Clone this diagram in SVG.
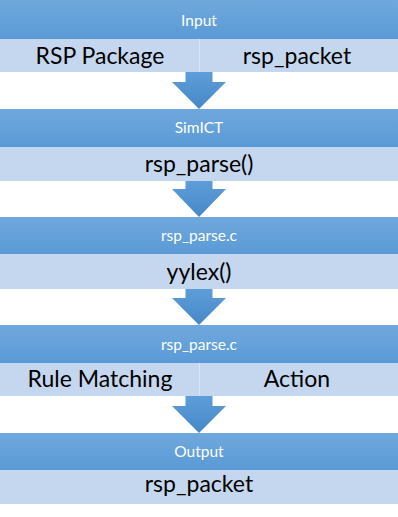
<svg xmlns="http://www.w3.org/2000/svg" width="398" height="517" viewBox="0 0 398 517">
  <defs>
    <linearGradient id="hdrGrad" x1="0" y1="0" x2="0" y2="1">
      <stop offset="0" stop-color="#70a8dd"/>
      <stop offset="1" stop-color="#5a9ad6"/>
    </linearGradient>
    <linearGradient id="arrowGrad" x1="0" y1="0" x2="0" y2="1">
      <stop offset="0" stop-color="#5d9dd9"/>
      <stop offset="1" stop-color="#4688c7"/>
    </linearGradient>
  </defs>
  <style>
    .hdr { fill: url(#hdrGrad); }
    .band { fill: #c5d7ee; }
    .div { stroke: #dbe6f4; stroke-width: 1; }
    .hdrText { font-family: "Lato", "Liberation Sans", sans-serif; font-size: 15.5px; fill: #ffffff; text-anchor: middle; }
    .bodyText { font-family: "Lato", "Liberation Sans", sans-serif; font-size: 23px; fill: #000000; text-anchor: middle; }
    .arrow { fill: url(#arrowGrad); }
  </style>
  <rect width="398" height="517" fill="#ffffff"/>

  <g id="input">
    <rect class="hdr" x="0" y="0" width="398" height="39"/>
    <text class="hdrText" x="199" y="25.5">Input</text>
    <rect class="band" x="0" y="39" width="398" height="33"/>
    <line class="div" x1="199.5" y1="39" x2="199.5" y2="72"/>
    <text class="bodyText" x="100" y="63.5">RSP Package</text>
    <text class="bodyText" x="297" y="63.5">rsp_packet</text>
  </g>

  <g id="simict">
    <rect class="hdr" x="0" y="109" width="398" height="38"/>
    <text class="hdrText" x="199" y="132.5">SimICT</text>
    <rect class="band" x="0" y="147" width="398" height="34"/>
    <text class="bodyText" x="199" y="172">rsp_parse()</text>
  </g>

  <g id="parse1">
    <rect class="hdr" x="0" y="217" width="398" height="37"/>
    <text class="hdrText" x="199" y="240.5">rsp_parse.c</text>
    <rect class="band" x="0" y="254" width="398" height="35"/>
    <text class="bodyText" x="199" y="279.5">yylex()</text>
  </g>

  <g id="parse2">
    <rect class="hdr" x="0" y="325" width="398" height="38"/>
    <text class="hdrText" x="199" y="350">rsp_parse.c</text>
    <rect class="band" x="0" y="363" width="398" height="33"/>
    <line class="div" x1="199.5" y1="363" x2="199.5" y2="396"/>
    <text class="bodyText" x="100" y="387">Rule Matching</text>
    <text class="bodyText" x="297" y="387">Action</text>
  </g>

  <g id="output">
    <rect class="hdr" x="0" y="433" width="398" height="37"/>
    <text class="hdrText" x="199" y="456.5">Output</text>
    <rect class="band" x="0" y="470" width="398" height="34"/>
    <text class="bodyText" x="199" y="491.5">rsp_packet</text>
  </g>

  <g id="connectors">
    <path class="arrow" d="M185.5,72 H212.5 V82 H226 L199,109 L172,82 H185.5 Z"/>
    <path class="arrow" d="M185.5,181 H212.5 V189 H226 L199,217 L172,189 H185.5 Z"/>
    <path class="arrow" d="M185.5,289 H212.5 V298 H226 L199,325 L172,298 H185.5 Z"/>
    <path class="arrow" d="M185.5,396 H212.5 V406 H226 L199,433 L172,406 H185.5 Z"/>
  </g>
</svg>
